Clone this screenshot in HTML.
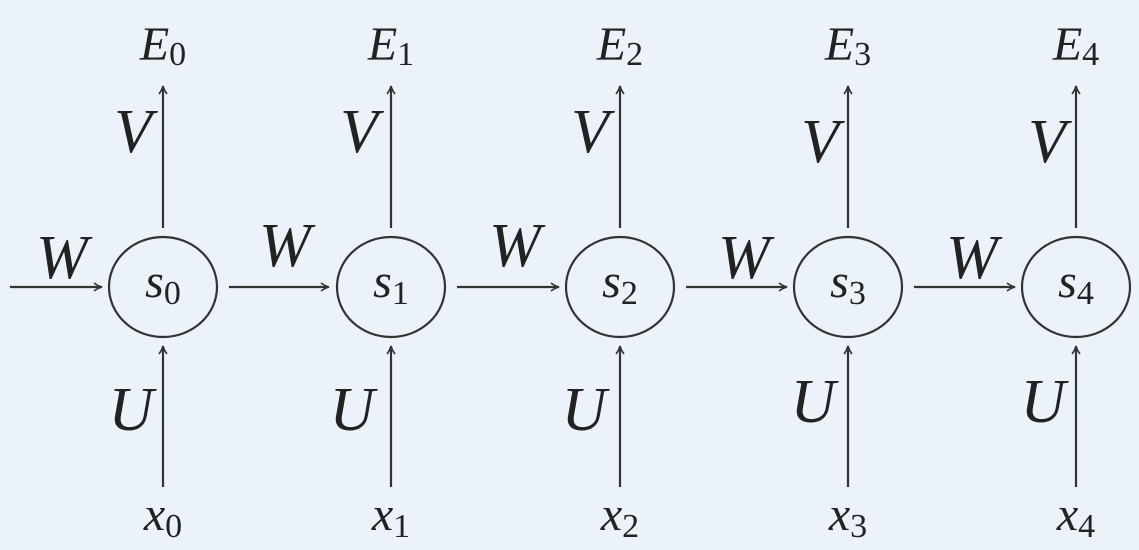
<!DOCTYPE html>
<html><head><meta charset="utf-8"><style>
html,body{margin:0;padding:0;background:#ecf2fa;}
svg{display:block}
text{font-family:"Liberation Serif","Times New Roman",serif;fill:#222;}
.it{font-style:italic}
</style></head><body>
<svg width="1139" height="550" viewBox="0 0 1139 550" xmlns="http://www.w3.org/2000/svg">
<defs>
<marker id="a" viewBox="0 0 10 10" refX="9" refY="5" markerWidth="10" markerHeight="10" markerUnits="userSpaceOnUse" orient="auto">
<path d="M1,1 Q5,4 9,5 Q5,6 1,9" fill="none" stroke="#333" stroke-width="1.6"/>
</marker>
</defs>
<g stroke="#333" stroke-width="2.2" fill="none">
<line x1="10" y1="287" x2="102" y2="287" marker-end="url(#a)"/>
<line x1="229" y1="287" x2="329" y2="287" marker-end="url(#a)"/>
<line x1="457" y1="287" x2="559" y2="287" marker-end="url(#a)"/>
<line x1="686" y1="287" x2="787" y2="287" marker-end="url(#a)"/>
<line x1="914" y1="287" x2="1015" y2="287" marker-end="url(#a)"/>
<ellipse cx="163" cy="287" rx="54" ry="50"/>
<ellipse cx="391" cy="287" rx="54" ry="50"/>
<ellipse cx="620" cy="287" rx="54" ry="50"/>
<ellipse cx="848" cy="287" rx="54" ry="50"/>
<ellipse cx="1076" cy="287" rx="54" ry="50"/>
<line x1="163" y1="228" x2="163" y2="86" marker-end="url(#a)"/>
<line x1="391" y1="228" x2="391" y2="86" marker-end="url(#a)"/>
<line x1="620" y1="228" x2="620" y2="86" marker-end="url(#a)"/>
<line x1="848" y1="228" x2="848" y2="86" marker-end="url(#a)"/>
<line x1="1076" y1="228" x2="1076" y2="86" marker-end="url(#a)"/>
<line x1="163" y1="487" x2="163" y2="346" marker-end="url(#a)"/>
<line x1="391" y1="487" x2="391" y2="346" marker-end="url(#a)"/>
<line x1="620" y1="487" x2="620" y2="346" marker-end="url(#a)"/>
<line x1="848" y1="487" x2="848" y2="346" marker-end="url(#a)"/>
<line x1="1076" y1="487" x2="1076" y2="346" marker-end="url(#a)"/>
</g>
<g font-size="62">
<text class="it" x="62" y="278" text-anchor="middle">W</text>
<text class="it" x="285" y="266" text-anchor="middle">W</text>
<text class="it" x="515" y="266" text-anchor="middle">W</text>
<text class="it" x="744" y="278" text-anchor="middle">W</text>
<text class="it" x="972" y="278" text-anchor="middle">W</text>
<text class="it" x="133" y="152" text-anchor="middle">V</text>
<text class="it" x="359" y="152" text-anchor="middle">V</text>
<text class="it" x="590" y="152" text-anchor="middle">V</text>
<text class="it" x="820" y="162" text-anchor="middle">V</text>
<text class="it" x="1047" y="162" text-anchor="middle">V</text>
<text class="it" x="131" y="430" text-anchor="middle">U</text>
<text class="it" x="352" y="430" text-anchor="middle">U</text>
<text class="it" x="584" y="430" text-anchor="middle">U</text>
<text class="it" x="813" y="422" text-anchor="middle">U</text>
<text class="it" x="1043" y="422" text-anchor="middle">U</text>
</g>
<g font-size="48">
<text x="163" y="60" text-anchor="middle"><tspan class="it">E</tspan><tspan font-size="34" dy="5">0</tspan></text>
<text x="391" y="60" text-anchor="middle"><tspan class="it">E</tspan><tspan font-size="34" dy="5">1</tspan></text>
<text x="620" y="60" text-anchor="middle"><tspan class="it">E</tspan><tspan font-size="34" dy="5">2</tspan></text>
<text x="848" y="60" text-anchor="middle"><tspan class="it">E</tspan><tspan font-size="34" dy="5">3</tspan></text>
<text x="1076" y="60" text-anchor="middle"><tspan class="it">E</tspan><tspan font-size="34" dy="5">4</tspan></text>
<text x="163" y="297" text-anchor="middle"><tspan class="it">s</tspan><tspan font-size="34" dy="7">0</tspan></text>
<text x="391" y="297" text-anchor="middle"><tspan class="it">s</tspan><tspan font-size="34" dy="7">1</tspan></text>
<text x="620" y="297" text-anchor="middle"><tspan class="it">s</tspan><tspan font-size="34" dy="7">2</tspan></text>
<text x="848" y="297" text-anchor="middle"><tspan class="it">s</tspan><tspan font-size="34" dy="7">3</tspan></text>
<text x="1076" y="297" text-anchor="middle"><tspan class="it">s</tspan><tspan font-size="34" dy="7">4</tspan></text>
<text x="163" y="530" text-anchor="middle"><tspan class="it">x</tspan><tspan font-size="34" dy="7">0</tspan></text>
<text x="391" y="530" text-anchor="middle"><tspan class="it">x</tspan><tspan font-size="34" dy="7">1</tspan></text>
<text x="620" y="530" text-anchor="middle"><tspan class="it">x</tspan><tspan font-size="34" dy="7">2</tspan></text>
<text x="848" y="530" text-anchor="middle"><tspan class="it">x</tspan><tspan font-size="34" dy="7">3</tspan></text>
<text x="1076" y="530" text-anchor="middle"><tspan class="it">x</tspan><tspan font-size="34" dy="7">4</tspan></text>
</g>
</svg>
</body></html>
